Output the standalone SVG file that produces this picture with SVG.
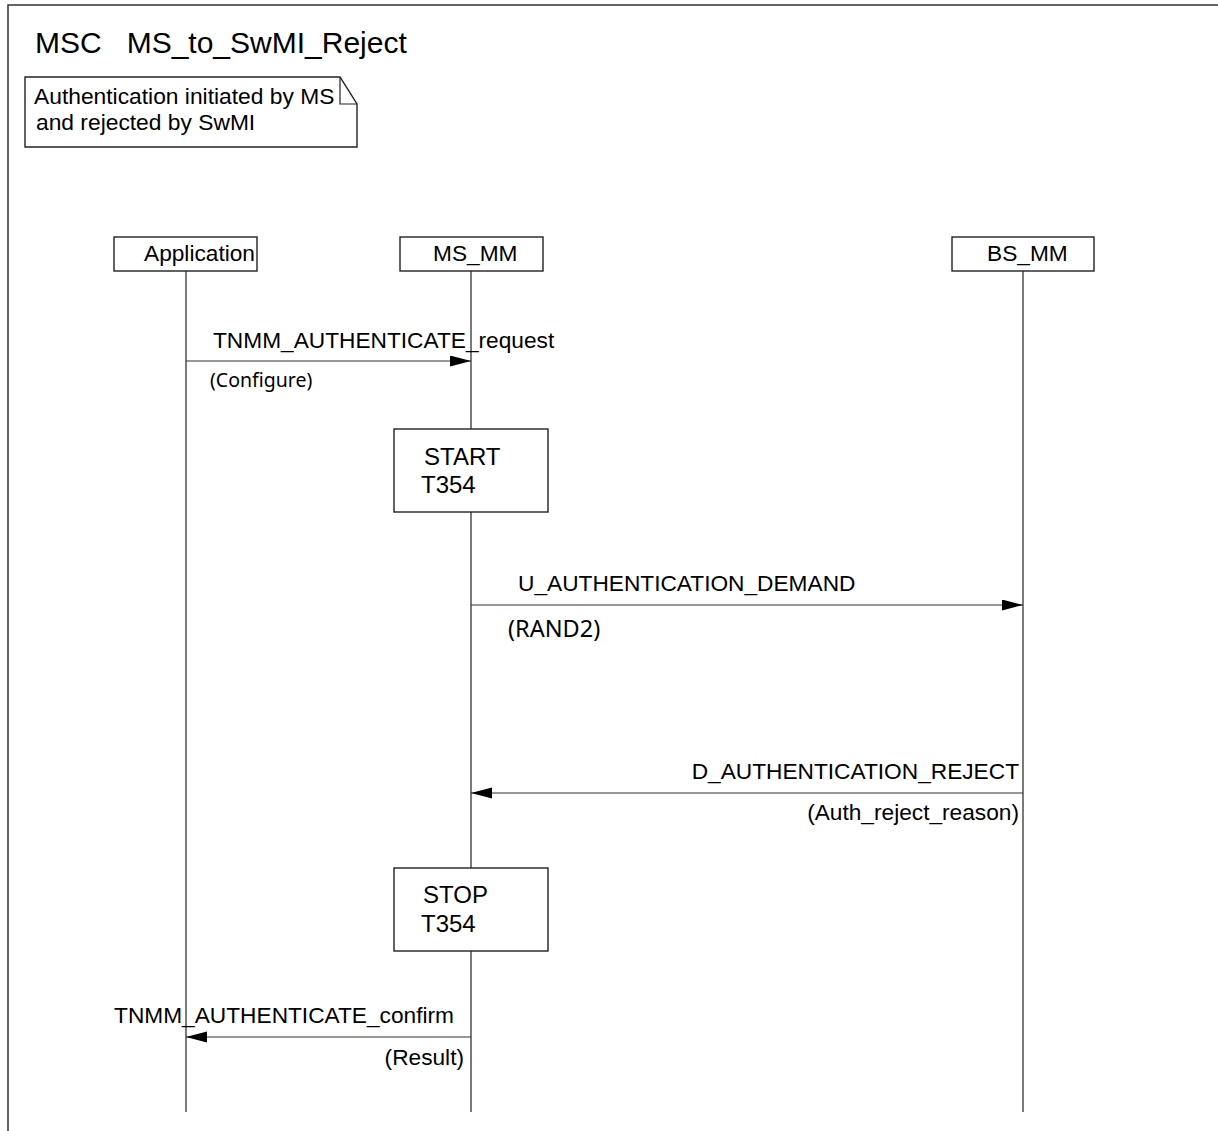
<svg xmlns="http://www.w3.org/2000/svg" width="1218" height="1131" viewBox="0 0 1218 1131">
<style>
.t{font-family:"Liberation Sans",Arial,sans-serif;font-size:22.7px;fill:#000}
.c{font-family:"Noto Sans","Open Sans",sans-serif;fill:#000}
.box{fill:#fff;stroke:#222;stroke-width:1.4}
.ll{stroke:#222;stroke-width:1.2;fill:none}
.msg{stroke:#333;stroke-width:1.2;fill:none;marker-end:url(#ah)}
.fr{stroke:#333;stroke-width:1.5;fill:none}
</style>
<defs>
<marker id="ah" markerUnits="userSpaceOnUse" markerWidth="22" markerHeight="12" refX="21" refY="5.5" orient="auto">
<path d="M0,0 L21,5.5 L0,11 Z" fill="#000"/>
</marker>
</defs>
<rect width="1218" height="1131" fill="#fff"/>
<g id="frame">
<path class="fr" d="M8,1131 V5 H1218"/>
<text class="t" x="35" y="53" style="font-size:30px" xml:space="preserve">MSC   MS_to_SwMI_Reject</text>
</g>
<g id="note">
<path class="box" d="M25,77 H340 L357,104 V147 H25 Z"/>
<path class="ll" d="M340,77 V104 H357"/>
<text class="t" x="34" y="104" style="font-size:22.8px">Authentication initiated by MS</text>
<text class="t" x="36" y="130" style="font-size:22.8px">and rejected by SwMI</text>
</g>
<g id="Application">
<line class="ll" x1="186" y1="271" x2="186" y2="1112"/>
<rect class="box" x="114" y="237" width="143" height="34"/>
<text class="t" x="144" y="261">Application</text>
</g>
<g id="MS_MM">
<line class="ll" x1="471" y1="271" x2="471" y2="1112"/>
<rect class="box" x="400" y="237" width="143" height="34"/>
<text class="t" x="433" y="261">MS_MM</text>
</g>
<g id="BS_MM">
<line class="ll" x1="1023" y1="271" x2="1023" y2="1112"/>
<rect class="box" x="952" y="237" width="142" height="34"/>
<text class="t" x="987" y="261">BS_MM</text>
</g>
<g id="start_T354">
<rect class="box" x="394" y="429" width="154" height="83"/>
<text class="t" x="424" y="465" style="font-size:24px">START</text>
<text class="t" x="421" y="493" style="font-size:24px">T354</text>
</g>
<g id="stop_T354">
<rect class="box" x="394" y="868" width="154" height="83"/>
<text class="t" x="423" y="903" style="font-size:24px">STOP</text>
<text class="t" x="421" y="932" style="font-size:24px">T354</text>
</g>
<g id="connectors">
<line class="msg" x1="186" y1="361" x2="471" y2="361"/>
<line class="msg" x1="471" y1="605" x2="1023" y2="605"/>
<line class="msg" x1="1023" y1="793" x2="471" y2="793"/>
<line class="msg" x1="471" y1="1037" x2="186" y2="1037"/>
</g>
<g id="labels">
<text class="t" x="213" y="348">TNMM_AUTHENTICATE_request</text>
<text class="c" x="210" y="387" style="font-size:19.5px">(Configure)</text>
<text class="t" x="518" y="591">U_AUTHENTICATION_DEMAND</text>
<text class="c" x="508" y="637" style="font-size:23.5px">(RAND2)</text>
<text class="t" x="1019" y="779" text-anchor="end">D_AUTHENTICATION_REJECT</text>
<text class="t" x="1019" y="820" text-anchor="end">(Auth_reject_reason)</text>
<text class="t" x="454" y="1023" text-anchor="end">TNMM_AUTHENTICATE_confirm</text>
<text class="t" x="464" y="1065" text-anchor="end">(Result)</text>
</g>
</svg>
